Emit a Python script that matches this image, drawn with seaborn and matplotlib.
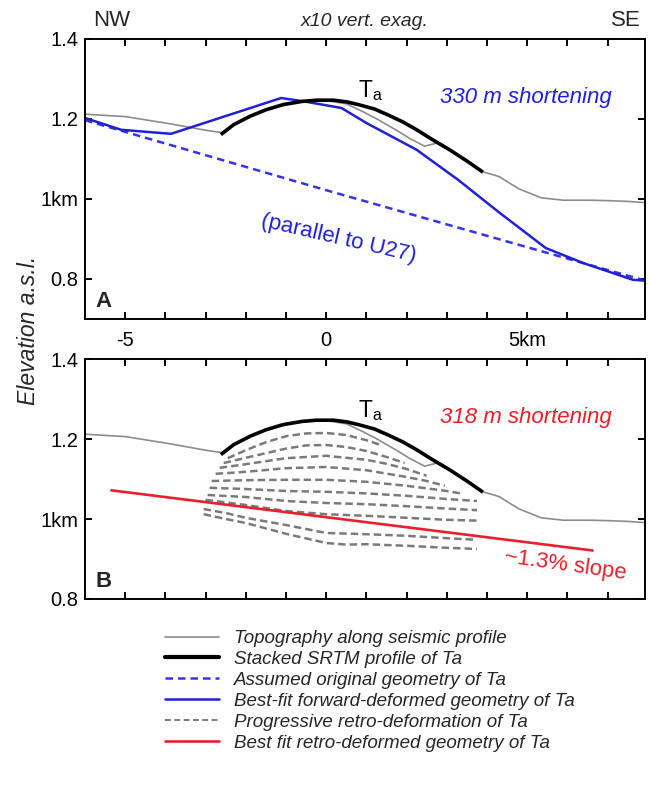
import matplotlib
matplotlib.use("Agg")
import matplotlib.pyplot as plt
from matplotlib.lines import Line2D
import seaborn as sns

# ---------------- data (km along profile, km elevation) ----------------
topo_x = [-6.0, -5.0, -4.0, -3.0, -2.6, -2.0, -1.5, -1.0, -0.5, 0.0, 0.5, 0.9, 1.3,
          1.73, 2.1, 2.45, 2.75, 3.07, 3.5, 3.9, 4.3, 4.8, 5.35, 5.9, 6.5, 7.0, 7.5, 7.93]
topo_y = [1.212, 1.206, 1.19, 1.172, 1.166, 1.202, 1.222, 1.236, 1.245, 1.246, 1.238,
          1.219, 1.198, 1.173, 1.15, 1.132, 1.14, 1.122, 1.094, 1.068, 1.056, 1.025,
          1.003, 0.997, 0.997, 0.996, 0.994, 0.991]

srtm_x = [-2.62, -2.3, -1.89, -1.5, -1.07, -0.6, -0.24, 0.18, 0.5, 0.8, 1.2, 1.52,
          1.9, 2.25, 2.65, 3.07, 3.5, 3.9]
srtm_y = [1.161, 1.186, 1.207, 1.223, 1.236, 1.244, 1.247, 1.247, 1.243, 1.236, 1.225,
          1.211, 1.193, 1.173, 1.148, 1.123, 1.095, 1.067]

orig_x = [-6.0, 0.0, 7.93]
orig_y = [1.197, 1.022, 0.796]

fwd_x = [-6.0, -5.1, -3.86, -1.12, -0.55, 0.38, 1.0, 2.25, 3.28, 4.32, 5.46, 6.39, 7.63, 7.93]
fwd_y = [1.2025, 1.173, 1.163, 1.2525, 1.244, 1.2275, 1.19, 1.123, 1.048, 0.965, 0.8775,
         0.84, 0.798, 0.796]

retro_best_x = [-5.37, 6.65]
retro_best_y = [1.072, 0.921]

retro1_x = [-2.45, -2.0, -1.5, -1.0, -0.5, 0.0, 0.5, 1.0, 1.35]
retro1_y = [1.152, 1.172, 1.192, 1.207, 1.214, 1.215, 1.21, 1.197, 1.185]
retro2_x = [-2.55, -2.0, -1.0, -0.5, 0.0, 0.5, 1.0, 1.5, 1.95]
retro2_y = [1.14, 1.153, 1.176, 1.184, 1.185, 1.18, 1.17, 1.155, 1.14]
retro3_x = [-2.65, -2.0, -1.0, 0.0, 1.0, 1.5, 2.0, 2.5]
retro3_y = [1.128, 1.137, 1.152, 1.158, 1.148, 1.138, 1.125, 1.108]
retro4_x = [-2.75, -2.0, -1.0, 0.0, 1.0, 2.0, 2.5, 2.95]
retro4_y = [1.113, 1.118, 1.127, 1.13, 1.122, 1.105, 1.095, 1.083]
retro5_x = [-2.85, -2.0, -1.0, 0.0, 1.0, 2.0, 3.0, 3.4]
retro5_y = [1.095, 1.097, 1.098, 1.098, 1.093, 1.083, 1.07, 1.063]
retro6_x = [-2.9, -2.0, -1.0, 0.0, 1.0, 2.0, 3.0, 3.75]
retro6_y = [1.078, 1.075, 1.07, 1.068, 1.064, 1.058, 1.05, 1.045]
retro7_x = [-2.95, -2.0, -1.0, 0.0, 1.0, 2.0, 3.0, 3.75]
retro7_y = [1.06, 1.055, 1.045, 1.04, 1.037, 1.032, 1.026, 1.022]
retro8_x = [-3.0, -2.0, -1.0, 0.0, 1.0, 2.0, 3.0, 3.75]
retro8_y = [1.048, 1.035, 1.02, 1.012, 1.008, 1.003, 0.998, 0.996]
retro9_x = [-3.05, -2.5, -2.0, -1.0, 0.0, 1.0, 2.0, 3.0, 3.75]
retro9_y = [1.025, 1.015, 1.003, 0.985, 0.965, 0.962, 0.958, 0.952, 0.948]
retro10_x = [-3.05, -2.5, -2.0, -1.0, 0.0, 0.5, 1.0, 2.0, 3.0, 3.75]
retro10_y = [1.012, 1.0, 0.99, 0.963, 0.94, 0.936, 0.937, 0.933, 0.928, 0.925]

retro_curves = [(retro1_x, retro1_y), (retro2_x, retro2_y), (retro3_x, retro3_y),
                (retro4_x, retro4_y), (retro5_x, retro5_y), (retro6_x, retro6_y),
                (retro7_x, retro7_y), (retro8_x, retro8_y), (retro9_x, retro9_y),
                (retro10_x, retro10_y)]

x_ticks = [-5, -4, -3, -2, -1, 0, 1, 2, 3, 4, 5, 6, 7]
x_ticklabels = ["-5", "", "", "", "", "0", "", "", "", "", "5km", "", ""]
y_ticks = [0.8, 1.0, 1.2, 1.4]
y_ticklabels = ["0.8", "1km", "1.2", "1.4"]

legend_labels = ["Topography along seismic profile",
                 "Stacked SRTM profile of Ta",
                 "Assumed original geometry of Ta",
                 "Best-fit forward-deformed geometry of Ta",
                 "Progressive retro-deformation of Ta",
                 "Best fit retro-deformed geometry of Ta"]

# ---------------- styles ----------------
C_TOPO = "#8c8c8c"
C_SRTM = "#000000"
C_BLUE = "#2020d4"
C_BLUE_D = "#3434e6"
C_RETRO = "#7a7a7a"
C_RED = "#e5202a"
LW_TOPO, LW_SRTM, LW_BLUE, LW_RETRO, LW_RED = 1.2, 2.6, 1.8, 1.8, 1.9
DASH_BLUE = (0, (3.0, 2.0))
DASH_RETRO = (0, (3.0, 1.6))

sns.set_theme(style="white")
plt.rcParams["font.family"] = ["Liberation Sans", "DejaVu Sans"]
plt.rcParams["mathtext.fontset"] = "custom"
plt.rcParams["mathtext.rm"] = "Liberation Sans"
plt.rcParams["mathtext.it"] = "Liberation Sans:italic"

W, H = 650, 785
fig = plt.figure(figsize=(W / 100, H / 100), dpi=100)
axA = fig.add_axes([85 / W, 1 - 319 / H, 560 / W, 280 / H])
axB = fig.add_axes([85 / W, 1 - 599 / H, 560 / W, 240 / H])


def draw(ax, x, y, color, lw, ls=None):
    sns.lineplot(x=x, y=y, ax=ax, color=color, linewidth=lw, estimator=None,
                 sort=False, legend=False)
    line = ax.lines[-1]
    if ls is not None:
        line.set_linestyle(ls)
    line.set_solid_capstyle("butt")
    return line


# Panel A
draw(axA, orig_x, orig_y, C_BLUE_D, LW_BLUE, DASH_BLUE)
draw(axA, topo_x, topo_y, C_TOPO, LW_TOPO)
draw(axA, fwd_x, fwd_y, C_BLUE, LW_BLUE)
draw(axA, srtm_x, srtm_y, C_SRTM, LW_SRTM)

# Panel B
draw(axB, topo_x, topo_y, C_TOPO, LW_TOPO)
for rx, ry in retro_curves:
    draw(axB, rx, ry, C_RETRO, LW_RETRO, DASH_RETRO)
draw(axB, srtm_x, srtm_y, C_SRTM, LW_SRTM)
draw(axB, retro_best_x, retro_best_y, C_RED, LW_RED)

for ax, ylim in ((axA, (0.7, 1.4)), (axB, (0.8, 1.4))):
    ax.set_xlim(-6.0, 7.93)
    ax.set_ylim(*ylim)
    ax.set_xticks(x_ticks)
    ax.set_yticks(y_ticks)
    ax.set_yticklabels(y_ticklabels)
    ax.set_xlabel("")
    ax.set_ylabel("")
    ax.grid(False)
    for s in ax.spines.values():
        s.set_visible(True)
        s.set_color("black")
        s.set_linewidth(1.4)
    ax.tick_params(axis="both", which="major", direction="in", length=5, width=1.4,
                   top=True, right=True, bottom=True, left=True, colors="black",
                   labelsize=14.5)
    ax.tick_params(axis="y", pad=5)
    ax.tick_params(axis="x", pad=9)

axA.set_xticklabels(x_ticklabels)
axB.set_xticklabels([""] * len(x_ticks))
axB.tick_params(axis="x", labelbottom=False)

# panel letters
axA.text(0.018, 0.025, "A", transform=axA.transAxes, fontsize=16, fontweight="bold",
         ha="left", va="bottom")
axB.text(0.018, 0.03, "B", transform=axB.transAxes, fontsize=16, fontweight="bold",
         ha="left", va="bottom")

# Ta labels
for ax in (axA, axB):
    ax.text(0.8, 1.255, r"T$_{\mathregular{a}}$", fontsize=16.5, ha="left",
            va="baseline", color="black")

axA.text(2.84, 1.24, "330 m shortening", fontsize=16, style="italic",
         color=C_BLUE, ha="left", va="baseline")
axB.text(2.84, 1.24, "318 m shortening", fontsize=16, style="italic",
         color=C_RED, ha="left", va="baseline")
axA.text(0.3, 0.9, "(parallel to U27)", fontsize=16, color=C_BLUE, rotation=-13,
         ha="center", va="center", rotation_mode="anchor")
axB.text(5.95, 0.885, "~1.3% slope", fontsize=16, color=C_RED, rotation=-8,
         ha="center", va="center", rotation_mode="anchor")

# header
fig.text(93 / W, 1 - 21 / H, "NW", fontsize=16, ha="left", va="center")
fig.text(641 / W, 1 - 21 / H, "SE", fontsize=16, ha="right", va="center")
fig.text(365 / W, 1 - 21 / H, "x10 vert. exag.", fontsize=14, style="italic",
         ha="center", va="center")
fig.text(29 / W, 1 - 330 / H, "Elevation a.s.l.", fontsize=16.5, style="italic",
         rotation=90, ha="center", va="center")

# legend
handles = [
    Line2D([], [], color=C_TOPO, lw=LW_TOPO),
    Line2D([], [], color=C_SRTM, lw=LW_SRTM + 0.4),
    Line2D([], [], color=C_BLUE_D, lw=LW_BLUE, linestyle=DASH_BLUE),
    Line2D([], [], color=C_BLUE, lw=LW_BLUE),
    Line2D([], [], color=C_RETRO, lw=1.4, linestyle=(0, (3.0, 1.8))),
    Line2D([], [], color=C_RED, lw=LW_RED),
]
fig.legend(handles, legend_labels, loc="upper left",
           bbox_to_anchor=(165 / W, 1 - 630 / H), frameon=False, borderpad=0,
           borderaxespad=0, handlelength=2.9, handletextpad=0.8, labelspacing=0.2,
           prop={"style": "italic", "size": 13.5})

fig.savefig("out.png", dpi=100)
